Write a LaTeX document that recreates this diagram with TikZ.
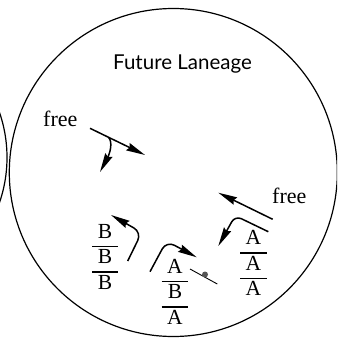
\documentclass[tikz,border=0pt]{standalone}
\usepackage{fontspec}
\setmainfont{Liberation Serif}
\newfontfamily\titlefont{Lato}
\usetikzlibrary{arrows.meta,calc}
\definecolor{dotgray}{HTML}{555555}
\newcommand{\tristack}[3]{{\fontsize{21.5}{24}\selectfont\setlength{\tabcolsep}{5.5pt}\setlength{\arrayrulewidth}{1.5pt}\begin{tabular}{c}#1\\\hline #2\\\hline #3\end{tabular}}}
\tikzset{
  arr/.style={line width=1.5pt, -{Stealth[length=19pt,width=8pt,inset=2pt]}},
  ring/.style={line width=1.2pt},
  lbl/.style={font=\fontsize{22}{26}\selectfont, inner sep=0pt, anchor=base},
  ttl/.style={font=\titlefont\fontsize{20.5}{24}\selectfont, inner sep=0pt, anchor=base},
  fracnode/.style={inner sep=0pt},
  thinline/.style={line width=0.9pt},
  dotnode/.style={circle, fill=dotgray, inner sep=0pt, minimum size=6pt}
}
\begin{document}
\begin{tikzpicture}[x=1pt,y=-1pt]
\useasboundingbox (0,0) rectangle (337,339);
\begin{scope}
  \clip (0,0) rectangle (337,339);
  \draw[ring] (-131,157.5) circle[radius=138pt];
  \draw[ring] (173.3,172.5) circle[radius=164pt];
\end{scope}
\node[ttl] (title) at (182.5,69.5) {Future Laneage};
\node[lbl] (free1) at (60.3,126.7) {free};
\node[lbl] (free2) at (289.3,203.5) {free};
\node[fracnode] (bbb) at (105,259) {\tristack{B}{B}{B}};
\node[fracnode] (aba) at (175,294) {\tristack{A}{B}{A}};
\node[fracnode] (aaa) at (253.5,265.5) {\tristack{A}{A}{A}};
% arrows
\coordinate (p1s) at (90,128.3); \coordinate (p1e) at (145,155);
\draw[arr] (p1s) -- (p1e);
\coordinate (p2s) at (108.5,137.3); \coordinate (p2e) at (100,172);
\draw[arr] (p2s) .. controls (113,142) and (110,153) .. (p2e);
\coordinate (p3s) at (272.7,219.3); \coordinate (p3e) at (218.3,192.7);
\draw[arr] (p3s) -- (p3e);
\coordinate (p4s) at (268.3,231.7); \coordinate (p4c) at (235.1,215.7); \coordinate (p4e) at (218.3,246);
\draw[arr, rounded corners=7pt] (p4s) -- (p4c) -- (p4e);
\coordinate (p5s) at (127.7,261); \coordinate (p5c) at (141.7,232.4); \coordinate (p5e) at (111,215);
\draw[arr, rounded corners=9pt] (p5s) -- (p5c) -- (p5e);
\coordinate (p6s) at (150,271.7); \coordinate (p6c) at (166.5,241); \coordinate (p6e) at (196.7,257.3);
\draw[arr, rounded corners=9pt] (p6s) -- (p6c) -- (p6e);
\coordinate (q1) at (190,269); \coordinate (q2) at (217.3,284);
\draw[thinline] (q1) -- (q2);
\node[dotnode] (dot) at (205,274.5) {};
\end{tikzpicture}
\end{document}
